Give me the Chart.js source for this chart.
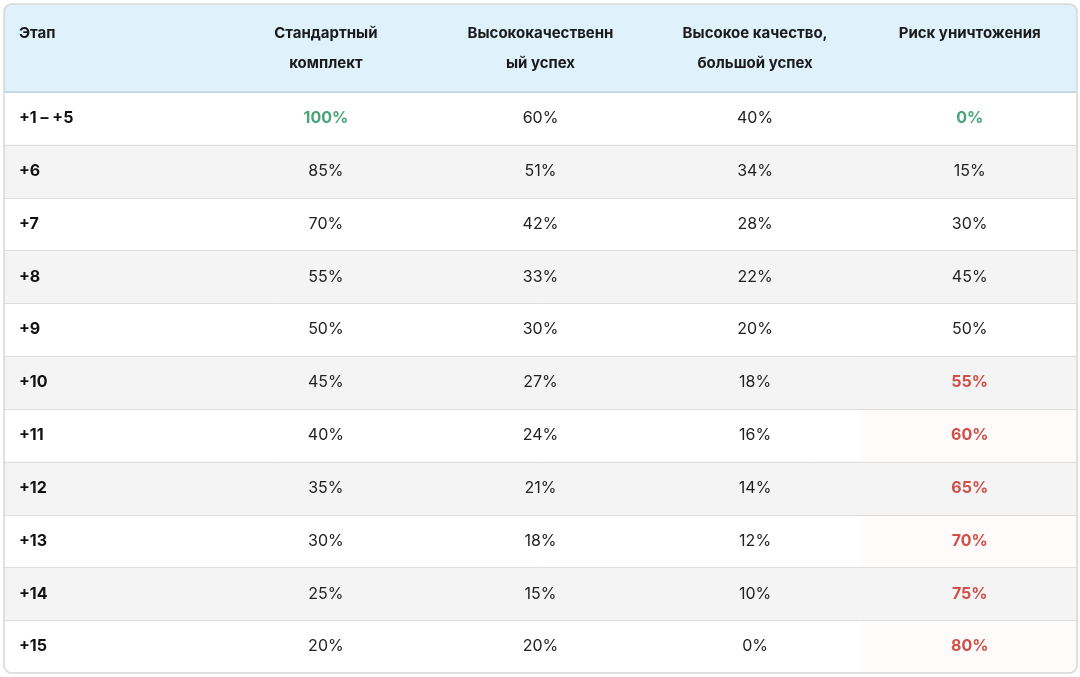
<!DOCTYPE html>
<html>
<head>
<meta charset="utf-8">
<script src="https://cdn.jsdelivr.net/npm/chart.js@4"></script>
<style>
  html, body { margin: 0; padding: 0; background: #fff; }
  #wrap { width: 1080px; height: 677px; position: relative; }
</style>
</head>
<body>
<div id="wrap"><canvas id="tbl"></canvas></div>
<script>
const headers = [['Этап'], ['Стандартный', 'комплект'], ['Высококачественн', 'ый успех'], ['Высокое качество,', 'большой успех'], ['Риск уничтожения']];
const stages = ['+1 – +5', '+6', '+7', '+8', '+9', '+10', '+11', '+12', '+13', '+14', '+15'];
const standard = [100, 85, 70, 55, 50, 45, 40, 35, 30, 25, 20];
const hqSuccess = [60, 51, 42, 33, 30, 27, 24, 21, 18, 15, 20];
const hqBig = [40, 34, 28, 22, 20, 18, 16, 14, 12, 10, 0];
const risk = [0, 15, 30, 45, 50, 55, 60, 65, 70, 75, 80];

const columns = [standard, hqSuccess, hqBig, risk];
const GREEN = '#4aa578';
const RED = '#d0504a';

// striped rows: full width floating bars on every second row
const stripeData = stages.map((s, i) => i % 2 === 1 ? [0, 5] : null);
// risk cells from 55% up get a pink tint
const riskData = stages.map((s, i) => risk[i] > 50 ? [4, 5] : null);
const riskColors = stages.map((s, i) => i % 2 === 1 ? '#fcf3f1' : '#fffbfa');

const tablePlugin = {
    id: 'tablePlugin',
    beforeDatasetsDraw(chart) {
        const ctx = chart.ctx;
        const a = chart.chartArea;
        ctx.save();
        // header background
        ctx.fillStyle = '#dff1fb';
        ctx.beginPath();
        ctx.roundRect(a.left, 4, a.right - a.left, a.top - 4, [8, 8, 0, 0]);
        ctx.fill();
        ctx.restore();
    },
    afterDatasetsDraw(chart) {
        const ctx = chart.ctx;
        const a = chart.chartArea;
        const x = chart.scales.x;
        const y = chart.scales.y;
        ctx.save();
        // row separators
        ctx.strokeStyle = '#dedede';
        ctx.lineWidth = 1;
        stages.forEach((s, i) => {
            if (i === 0) return;
            const yy = Math.round((y.getPixelForValue(i - 1) + y.getPixelForValue(i)) / 2) + 0.5;
            ctx.beginPath();
            ctx.moveTo(a.left, yy);
            ctx.lineTo(a.right, yy);
            ctx.stroke();
        });
        // header bottom border
        ctx.strokeStyle = '#c8d8e2';
        ctx.lineWidth = 2;
        ctx.beginPath();
        ctx.moveTo(a.left, a.top);
        ctx.lineTo(a.right, a.top);
        ctx.stroke();
        // outer border
        ctx.strokeStyle = '#d6d6d6';
        ctx.lineWidth = 1.5;
        ctx.beginPath();
        ctx.roundRect(a.left, 4, a.right - a.left, a.bottom - 4, 8);
        ctx.stroke();

        // header text
        ctx.fillStyle = '#1a1a1a';
        ctx.font = 'bold 15px Inter, "Noto Sans", sans-serif';
        ctx.textBaseline = 'middle';
        headers.forEach((lines, c) => {
            const cx = c === 0 ? a.left + 15 : x.getPixelForValue(c + 0.5);
            ctx.textAlign = c === 0 ? 'left' : 'center';
            lines.forEach((t, k) => ctx.fillText(t, cx, 33 + k * 30));
        });

        // body text
        stages.forEach((s, i) => {
            const yy = y.getPixelForValue(i);
            ctx.textAlign = 'left';
            ctx.fillStyle = '#111';
            ctx.font = 'bold 16px Inter, "Noto Sans", sans-serif';
            ctx.fillText(s, a.left + 15, yy);
            columns.forEach((col, c) => {
                const v = col[i];
                let color = '#222';
                let bold = false;
                if (c === 0 && v === 100) { color = GREEN; bold = true; }
                if (c === 3 && v === 0) { color = GREEN; bold = true; }
                if (c === 3 && v > 50) { color = RED; bold = true; }
                ctx.fillStyle = color;
                ctx.font = (bold ? 'bold ' : '') + '16px Inter, "Noto Sans", sans-serif';
                ctx.textAlign = 'center';
                ctx.fillText(v + '%', x.getPixelForValue(c + 1.5), yy);
            });
        });
        ctx.restore();
    }
};

new Chart(document.getElementById('tbl').getContext('2d'), {
    type: 'bar',
    data: {
        labels: stages,
        datasets: [{
            data: stripeData,
            backgroundColor: '#f4f4f4',
            barPercentage: 1,
            categoryPercentage: 1,
            grouped: false
        }, {
            data: riskData,
            backgroundColor: riskColors,
            barPercentage: 1,
            categoryPercentage: 1,
            grouped: false
        }]
    },
    options: {
        indexAxis: 'y',
        responsive: true,
        maintainAspectRatio: false,
        animation: false,
        layout: { padding: { left: 4, right: 3, top: 92, bottom: 4 } },
        scales: {
            x: { type: 'linear', min: 0, max: 5, display: false },
            y: { display: false, offset: true }
        },
        plugins: { legend: { display: false }, tooltip: { enabled: false } }
    },
    plugins: [tablePlugin]
});
</script>
</body>
</html>
